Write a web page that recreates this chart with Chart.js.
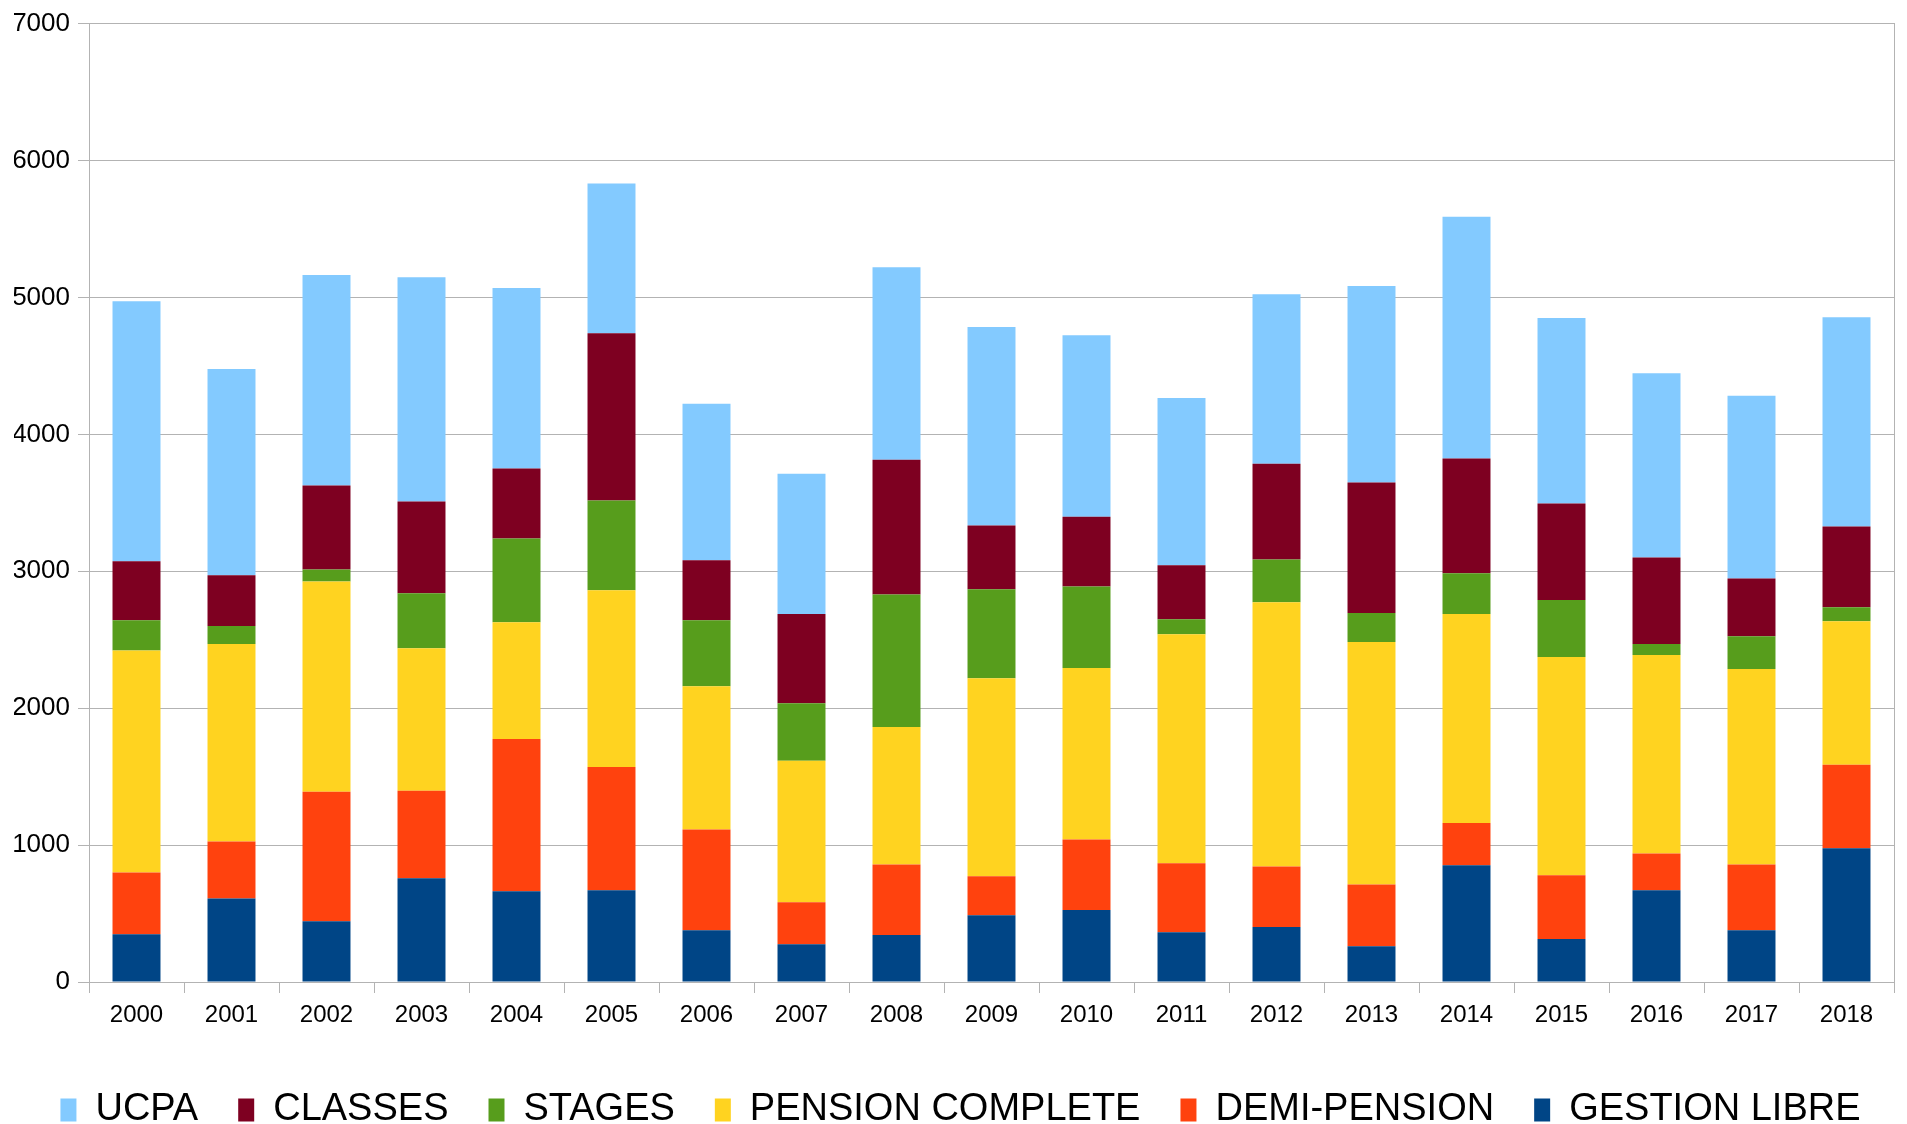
<!DOCTYPE html>
<html>
<head>
<meta charset="utf-8">
<script src="https://cdn.jsdelivr.net/npm/chart.js@4/dist/chart.umd.min.js"></script>
<style>
  html, body { margin: 0; padding: 0; overflow: hidden; background: #fff; }
</style>
</head>
<body>
<canvas id="myBarChart" width="1907" height="1139"></canvas>
<script>
// Years on the x axis
const years = ['2000', '2001', '2002', '2003', '2004', '2005', '2006', '2007', '2008', '2009',
               '2010', '2011', '2012', '2013', '2014', '2015', '2016', '2017', '2018'];

// Series values, bottom of the stack first
const gestionLibre    = [348, 609, 443, 757, 662, 670, 378, 276, 344, 488, 526, 363, 401, 261, 852, 314, 670, 378, 977];
const demiPension     = [451, 417, 946, 640, 1113, 901, 735, 307, 515, 284, 515, 504, 443, 451, 310, 466, 269, 481, 609];
const pensionComplete = [1623, 1442, 1537, 1041, 852, 1290, 1048, 1033, 1003, 1446, 1253, 1673, 1930, 1771, 1525, 1593, 1449, 1427, 1048];
const stages          = [220, 132, 87, 401, 613, 655, 481, 420, 969, 651, 594, 110, 311, 212, 299, 417, 80, 239, 103];
const classes         = [431, 371, 613, 670, 511, 1223, 439, 651, 984, 466, 511, 393, 700, 954, 837, 704, 632, 423, 590];
const ucpa            = [1900, 1507, 1537, 1639, 1317, 1094, 1143, 1026, 1405, 1449, 1325, 1223, 1238, 1434, 1767, 1355, 1347, 1333, 1529];

const gridColor = '#b3b3b3';

const ctx = document.getElementById('myBarChart').getContext('2d');
new Chart(ctx, {
    type: 'bar',
    data: {
        labels: years,
        datasets: [
            { label: 'GESTION LIBRE', data: gestionLibre, backgroundColor: '#004586' },
            { label: 'DEMI-PENSION', data: demiPension, backgroundColor: '#ff420e' },
            { label: 'PENSION COMPLETE', data: pensionComplete, backgroundColor: '#ffd320' },
            { label: 'STAGES', data: stages, backgroundColor: '#579d1c' },
            { label: 'CLASSES', data: classes, backgroundColor: '#7e0021' },
            { label: 'UCPA', data: ucpa, backgroundColor: '#83caff' }
        ]
    },
    options: {
        responsive: false,
        animation: false,
        devicePixelRatio: 1,
        categoryPercentage: 1.0,
        barPercentage: 0.505,
        layout: { padding: { top: 18, left: 14, right: 0, bottom: 0 } },
        plugins: {
            tooltip: { enabled: false },
            legend: {
                position: 'bottom',
                reverse: true,
                labels: {
                    color: '#000',
                    font: { family: 'Liberation Sans', size: 38 },
                    boxWidth: 16,
                    boxHeight: 23,
                    padding: 40
                }
            }
        },
        scales: {
            x: {
                stacked: true,
                grid: { drawOnChartArea: false, color: gridColor, tickLength: 11 },
                border: { color: gridColor },
                ticks: { color: '#000', padding: 8, font: { family: 'Liberation Sans', size: 24 } },
                afterFit: function(scale) { scale.height = 69; }
            },
            y: {
                stacked: true,
                min: 0,
                max: 7000,
                ticks: {
                    stepSize: 1000,
                    color: '#000',
                    padding: 8,
                    font: { family: 'Liberation Sans', size: 26 },
                    callback: function(value) { return String(value); }
                },
                grid: { color: gridColor, tickLength: 11 },
                border: { color: gridColor },
                afterFit: function(scale) { scale.width = 75; }
            },
            y2: {
                position: 'right',
                min: 0,
                max: 7000,
                grid: { display: false, drawTicks: false },
                ticks: { display: false },
                border: { display: true, color: gridColor },
                afterFit: function(scale) { scale.width = 13; }
            }
        }
    }
});
</script>
</body>
</html>
